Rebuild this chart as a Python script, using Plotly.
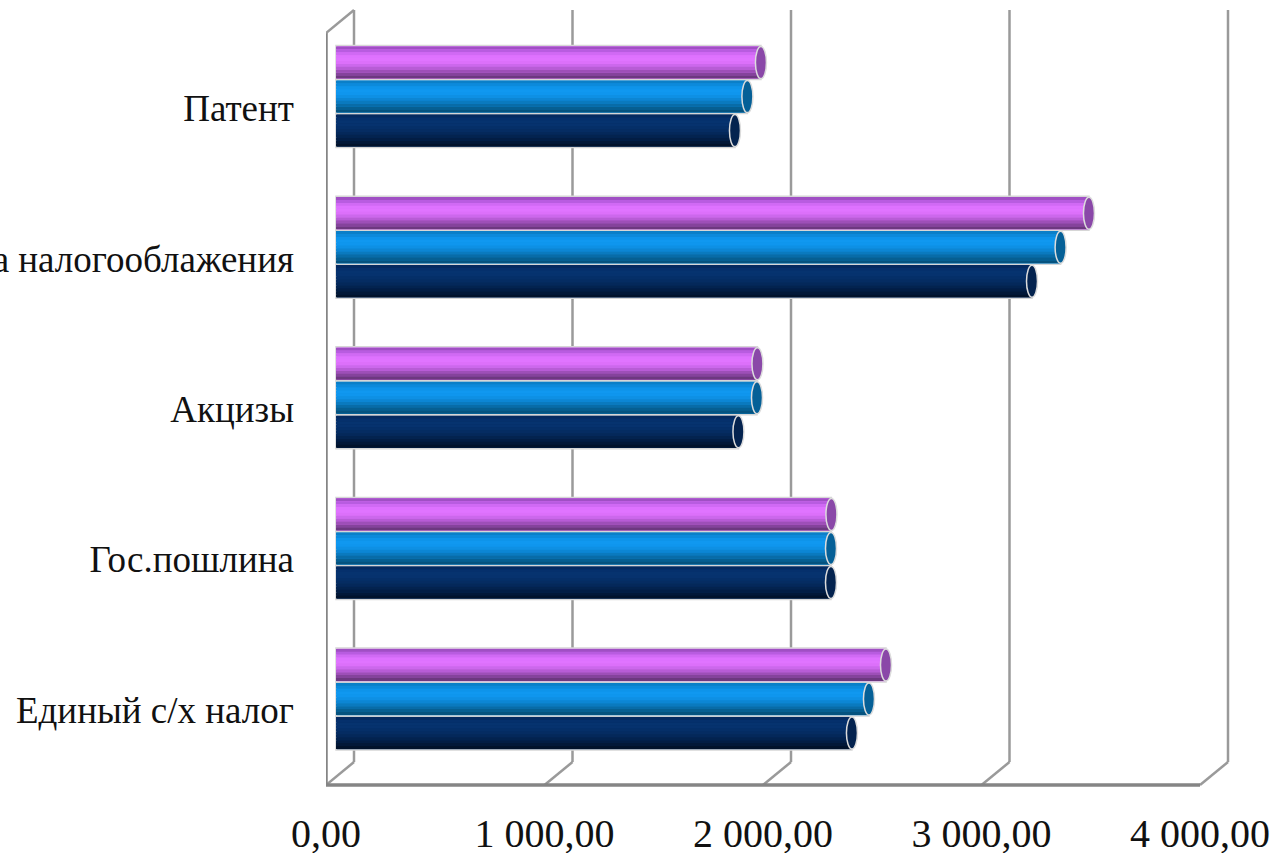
import plotly.graph_objects as go

categories = ["Единый с/х налог", "Гос.пошлина", "Акцизы",
              "Упрощенная система налогооблажения", "Патент"]
navy_values = [2364, 2268, 1844, 3189, 1828]
blue_values = [2442, 2268, 1929, 3320, 1885]
purple_values = [2520, 2270, 1931, 3450, 1947]
x_ticks = [0, 1000, 2000, 3000, 4000]
x_tick_labels = ["0,00", "1 000,00", "2 000,00", "3 000,00", "4 000,00"]

series = [
    ("Ряд 1", navy_values, "#04234f",
     ["#052a60", "#05306c", "#06336f", "#06326e", "#052f68", "#052c62",
      "#04285a", "#03234f", "#021d44", "#021838", "#01122b"]),
    ("Ряд 2", blue_values, "#056097",
     ["#0a7fc8", "#0c8adb", "#0e94ea", "#1098f0", "#0f96ee", "#0e90e4",
      "#0c86d4", "#0a7abf", "#086ca8", "#065f92", "#05537f"]),
    ("Ряд 3", purple_values, "#8a48a8",
     ["#a04fc4", "#b85ce0", "#d06af4", "#de72ff", "#e074ff", "#dc70fa",
      "#cc68ec", "#b85cd6", "#9e4fb8", "#85439c", "#6d3880"]),
]

W, H = 1276, 853
LEFT, RIGHT, TOP, BOTTOM = 326, 0, 10, 68
PW, PH = W - LEFT - RIGHT, H - TOP - BOTTOM
FRONT_PX = 218.5 / 1000
BAR_PX = 218.25 / 1000
FRONT_STEP = 150.4
BAR_STEP = 150.6
BAR_ZERO_SHIFT = 10
BAR_CENTER_0 = 699
DEPTH_X = 28
DEPTH_Y = 23
BAR_H = 34 / BAR_STEP
CAP_HALF = 5.5 / BAR_PX
GREY = "#9a9a9a"
DARK_GREY = "#858585"

fig = go.Figure()
indices = list(range(len(categories)))

for s, (name, values, cap, strips) in enumerate(series):
    start = (s - 1.5) * BAR_H
    fig.add_trace(go.Bar(
        y=indices, x=values, name=name, orientation="h",
        width=BAR_H, offset=start, xaxis="x2", yaxis="y2",
        marker=dict(color=strips[5], line=dict(color="#d6d6d6", width=1.5)),
        hoverinfo="x+y", showlegend=False))
    inner = BAR_H - 2 / BAR_STEP
    n = len(strips)
    for k, col in enumerate(strips):
        h = inner / n
        fig.add_trace(go.Bar(
            y=indices, x=values, orientation="h",
            width=h * 1.04,
            offset=start + 1 / BAR_STEP + (n - 1 - k) * h,
            xaxis="x2", yaxis="y2",
            marker=dict(color=col, line=dict(width=0)),
            hoverinfo="skip", showlegend=False))

shapes = []
# Caps at the bar ends
for s, (name, values, cap, strips) in enumerate(series):
    start = (s - 1.5) * BAR_H
    for i, v in zip(indices, values):
        shapes.append(dict(
            type="circle", xref="x2", yref="y2", layer="above",
            x0=v - CAP_HALF, x1=v + CAP_HALF,
            y0=i + start + 1 / BAR_STEP, y1=i + start + BAR_H - 1 / BAR_STEP,
            fillcolor=cap, line=dict(color="#dcdcdc", width=1.5)))


def yp(px):
    return (H - BOTTOM - px) / PH


floor_y = H - BOTTOM
for t in x_ticks:
    dx = DEPTH_X / FRONT_PX
    shapes.append(dict(type="line", xref="x", yref="paper", layer="below",
                       x0=t + dx, x1=t + dx, y0=yp(floor_y - DEPTH_Y), y1=yp(TOP),
                       line=dict(color=GREY, width=2.5)))
    shapes.append(dict(type="line", xref="x", yref="paper", layer="below",
                       x0=t, x1=t + dx, y0=yp(floor_y), y1=yp(floor_y - DEPTH_Y),
                       line=dict(color=GREY, width=2.5)))
# Front floor line, left wall line and its top diagonal
shapes.append(dict(type="line", xref="x", yref="paper", layer="below",
                   x0=0, x1=x_ticks[-1], y0=yp(floor_y), y1=yp(floor_y),
                   line=dict(color=DARK_GREY, width=3.5)))
shapes.append(dict(type="line", xref="x", yref="paper", layer="below",
                   x0=0, x1=0, y0=yp(floor_y), y1=yp(TOP + DEPTH_Y),
                   line=dict(color=DARK_GREY, width=3.5)))
shapes.append(dict(type="line", xref="x", yref="paper", layer="below",
                   x0=0, x1=DEPTH_X / FRONT_PX, y0=yp(TOP + DEPTH_Y), y1=yp(TOP),
                   line=dict(color=GREY, width=2.5)))

font = dict(family="Liberation Serif", size=37, color="#111111")
x_font = dict(family="Liberation Serif", size=40, color="#111111")

fig.update_layout(
    width=W, height=H, autosize=False,
    margin=dict(l=LEFT, r=RIGHT, t=TOP, b=BOTTOM, pad=0),
    paper_bgcolor="white", plot_bgcolor="rgba(0,0,0,0)",
    barmode="overlay", showlegend=False, shapes=shapes,
    xaxis=dict(range=[0, PW / FRONT_PX], tickmode="array", tickvals=x_ticks,
               ticktext=x_tick_labels, tickfont=x_font, showgrid=False,
               zeroline=False, showline=False, ticks="", ticklabelstandoff=21,
               automargin=False),
    xaxis2=dict(range=[-BAR_ZERO_SHIFT / BAR_PX, (PW - BAR_ZERO_SHIFT) / BAR_PX],
                overlaying="x", visible=False),
    yaxis=dict(range=[-0.5, -0.5 + PH / FRONT_STEP],
               tickmode="array", tickvals=indices, ticktext=categories,
               tickfont=font, showgrid=False, zeroline=False, showline=False,
               ticks="", ticklabelstandoff=31, automargin=False),
    yaxis2=dict(range=[-(floor_y - BAR_CENTER_0) / BAR_STEP,
                       (BAR_CENTER_0 - TOP) / BAR_STEP],
                overlaying="y", visible=False),
)

fig.write_html("out.html", config=dict(displayModeBar=False),
               post_script="document.body.style.margin='0';document.body.style.overflow='hidden';")
